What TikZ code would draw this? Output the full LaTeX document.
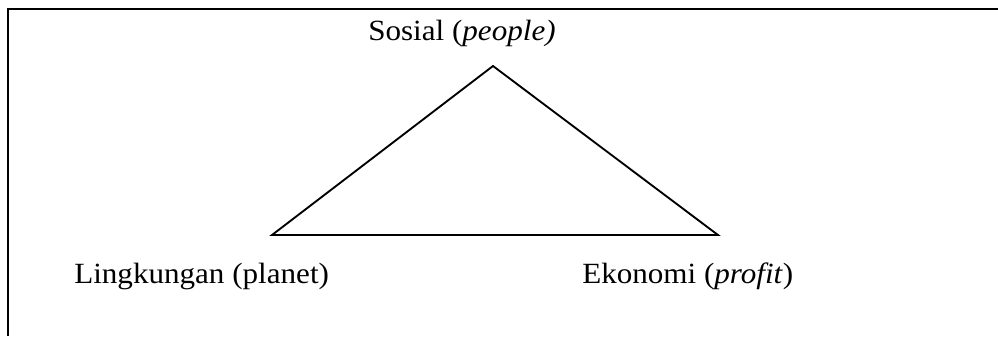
\documentclass[tikz,border=0pt]{standalone}
\usepackage{fontspec}
\setmainfont{Liberation Serif}
\begin{document}
\begin{tikzpicture}[x=0.75pt,y=-0.75pt,
  lbl/.style={anchor=base west,inner sep=0pt,font=\fontsize{22}{26}\selectfont},
  edge/.style={line width=1.4pt,line join=miter},
  frame/.style={line width=1.2pt}]
\useasboundingbox (0,0) rectangle (998,336);
% frame (top and left only)
\coordinate (fc) at (8,9);
\coordinate (ftr) at (998,9);
\coordinate (fbl) at (8,336);
\draw[frame] (ftr) -- (fc) -- (fbl);
% triangle
\coordinate (top) at (493,66);
\coordinate (left) at (272,235);
\coordinate (right) at (718,235);
\draw[edge] (top) -- (left) -- (right) -- cycle;
% labels
\node[lbl] (sos) at (368,40) {\scalebox{1.06}[1]{Sosial (\textit{people)}}};
\node[lbl] (ling) at (74,283) {\scalebox{1.06}[1]{Lingkungan (planet)}};
\node[lbl] (eko) at (582,283) {\scalebox{1.06}[1]{Ekonomi (\textit{profit})}};
\end{tikzpicture}
\end{document}
